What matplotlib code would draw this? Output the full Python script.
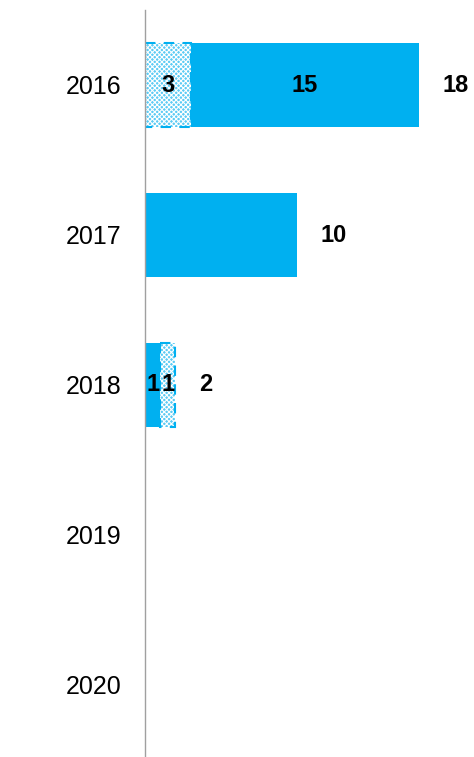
import numpy as np
import matplotlib.pyplot as plt

plt.rcParams['font.family'] = ['Liberation Sans', 'DejaVu Sans']
plt.rcParams['hatch.linewidth'] = 0.8

years = ['2016', '2017', '2018', '2019', '2020']
solid = [15, 10, 1, 0, 0]
hatched = [3, 0, 1, 0, 0]
hatched_first = [True, True, False, False, False]

blue = '#00B0F0'
light = '#5ccbf4'

fig = plt.figure(figsize=(4.74, 7.57), dpi=100)
ax = fig.add_axes([145 / 474, 0, 329 / 474, 747 / 757])

y = np.arange(len(years))
h = 0.56
for i in range(len(years)):
    if hatched_first[i]:
        segs = [('h', hatched[i]), ('s', solid[i])]
    else:
        segs = [('s', solid[i]), ('h', hatched[i])]
    left = 0
    both = solid[i] > 0 and hatched[i] > 0
    for kind, v in segs:
        if v == 0:
            continue
        if kind == 's':
            ax.barh(y[i], v, left=left, height=h, color=blue, edgecolor='none')
        else:
            ax.barh(y[i], v, left=left, height=h, color=light, hatch='xxxxxxx',
                    edgecolor='white', linewidth=0)
            ax.barh(y[i], v, left=left, height=h, fill=False, edgecolor=blue,
                    linewidth=1.5, linestyle=(0, (5, 4)))
        if both:
            ax.text(left + v / 2, y[i], str(v), ha='center', va='center',
                    fontsize=17, fontweight='bold')
        left += v
    total = solid[i] + hatched[i]
    if total > 0:
        ax.annotate(str(total), (total, y[i]), xytext=(17, 0),
                    textcoords='offset points', ha='left', va='center',
                    fontsize=17, fontweight='bold')

ax.set_xlim(0, 21.6)
ax.set_ylim(4.48, -0.5)
ax.set_yticks(y)
ax.set_yticklabels(years, fontsize=18)
ax.tick_params(axis='y', length=0, pad=17)
ax.set_xticks([])
for s in ['top', 'right', 'bottom']:
    ax.spines[s].set_visible(False)
ax.spines['left'].set_color('#a0a0a0')
ax.spines['left'].set_linewidth(1)

fig.savefig('out.png', dpi=100)
